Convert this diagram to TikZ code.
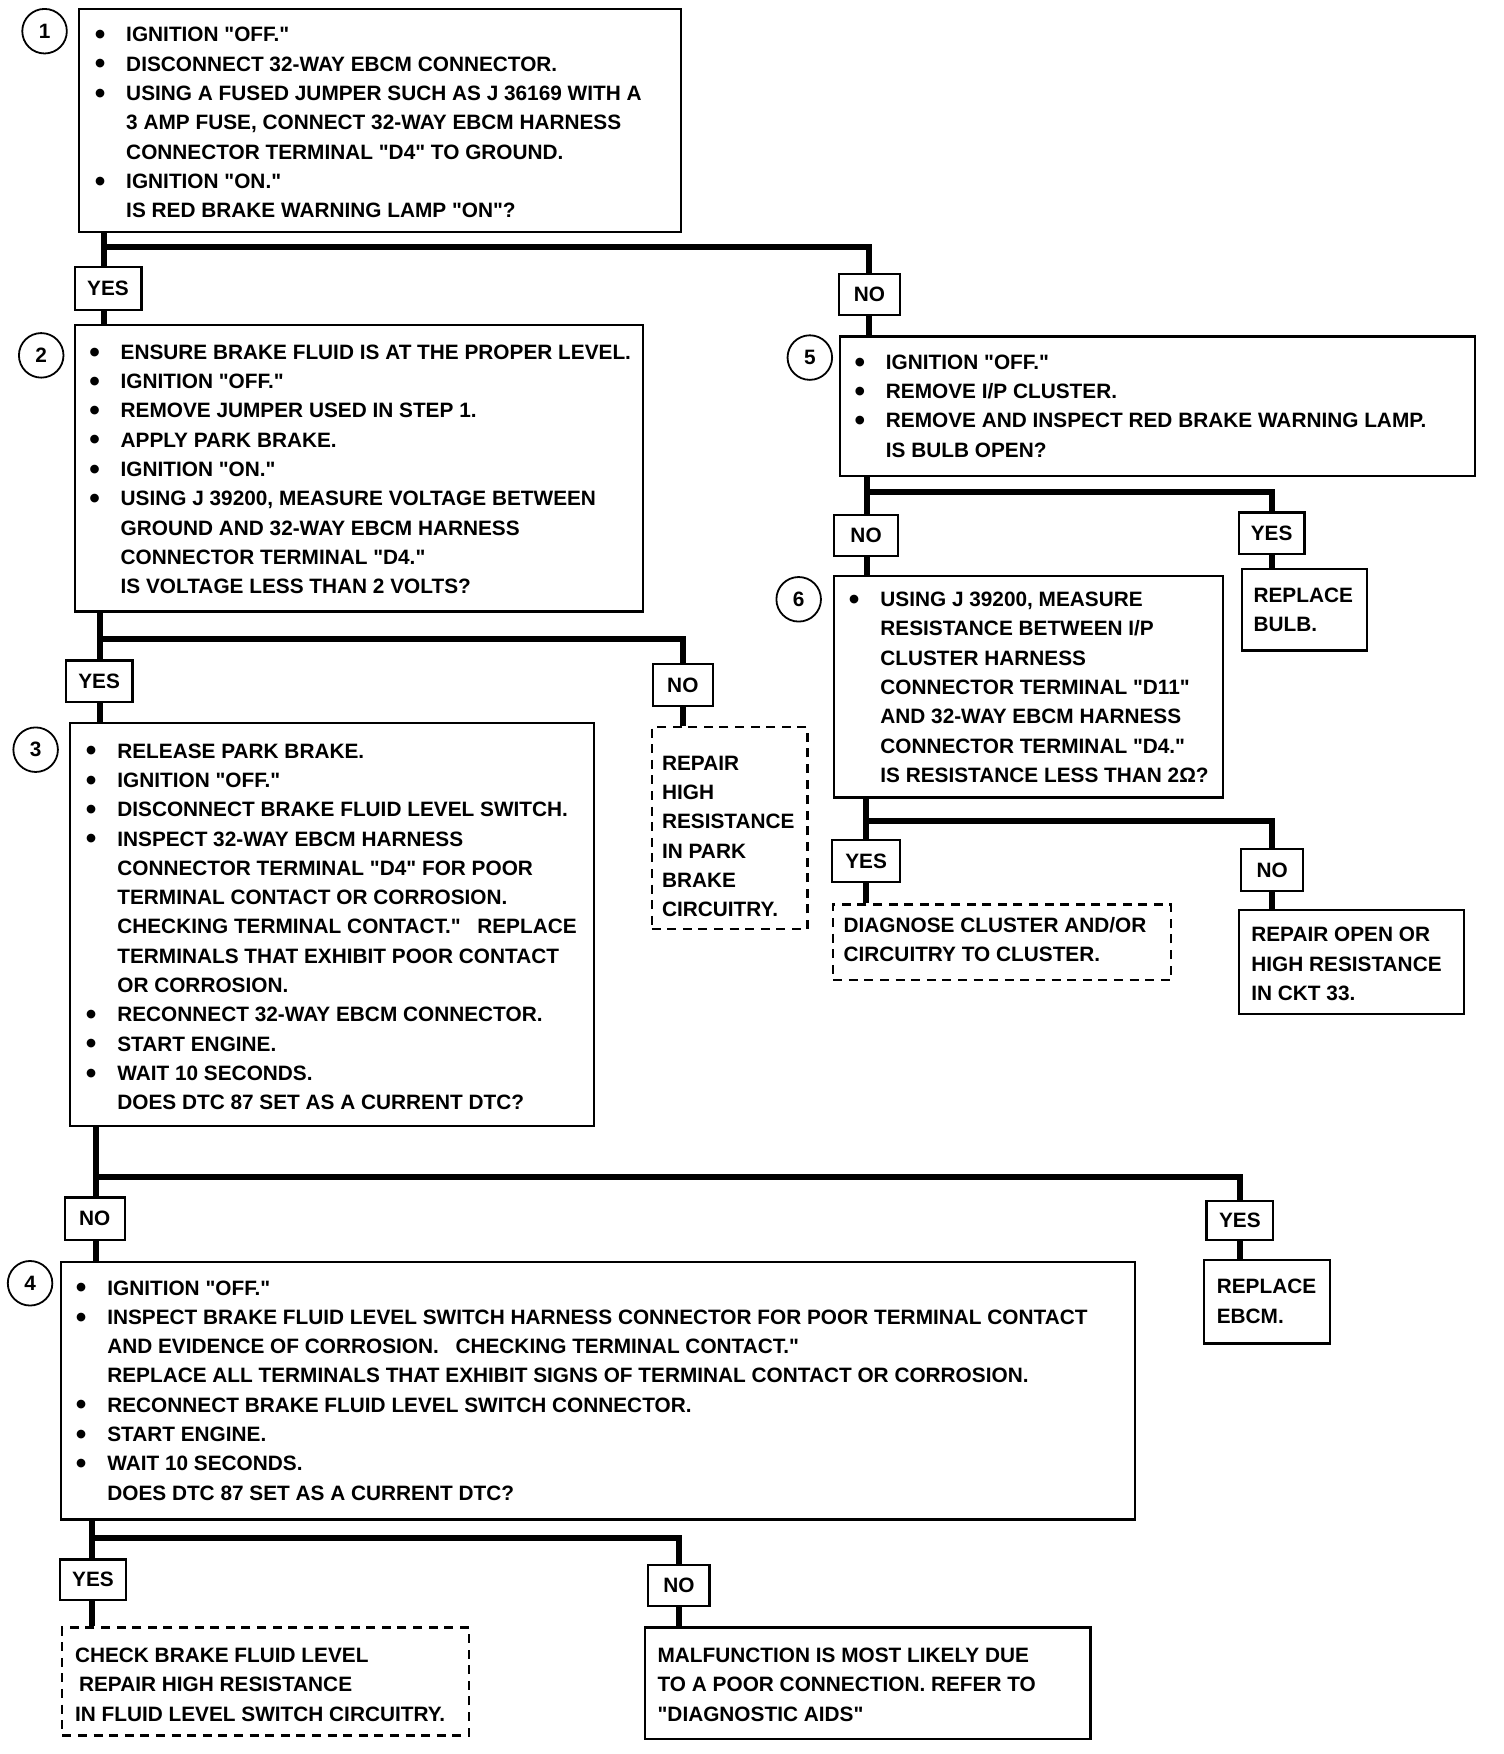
\documentclass[tikz,border=0pt]{standalone}
\usepackage{graphicx}
\usepackage{fontspec}
\setmainfont{Liberation Sans}[Ligatures=TeXOff]
\newlength{\bw}
\setlength{\bw}{15.3pt}
\newcommand{\bl}{\makebox[\bw][l]{\hspace*{-0.4pt}\raisebox{-0.13em}{\scalebox{1.45}{\textbullet}}}}
\newcommand{\ind}{\hspace*{\bw}}
\newcommand{\fs}{\fontsize{10.4}{14.65}\selectfont\bfseries}
\newcommand{\pxu}{0.557pt}
\tikzset{
 conn/.style={line width=3pt},
 bx/.style 2 args={draw, line width=1.1pt, minimum width=#1*\pxu, minimum height=#2*\pxu, anchor=north west, inner sep=0pt},
 dbx/.style 2 args={bx={#1}{#2}, dash pattern=on 4.5pt off 3.3pt},
 lbl/.style 2 args={draw, line width=1.1pt, minimum width=#1*\pxu, minimum height=#2*\pxu, inner sep=0pt, font=\fs},
 circ/.style={circle, draw, line width=0.9pt, minimum size=40*\pxu, inner sep=0pt, font=\fs},
 txt/.style={anchor=north west, inner sep=0pt, align=left, font=\fs},
}
\begin{document}
\begin{tikzpicture}[x=0.557pt, y=-0.557pt]
\fill[white] (0,0) rectangle (1350,1574.6);
\useasboundingbox (0,0) rectangle (1350,1574.6);

% ---------- step boxes ----------
\node[bx={540}{200}] (b1) at (70,7) {};
\node[circ] (c1) at (40,28) {1};
\node[txt] (t1) at (85.5,24.2) {\bl IGNITION "OFF."\\
\bl DISCONNECT 32-WAY EBCM CONNECTOR.\\
\bl USING A FUSED JUMPER SUCH AS J 36169 WITH A\\
\ind 3 AMP FUSE, CONNECT 32-WAY EBCM HARNESS\\
\ind CONNECTOR TERMINAL "D4" TO GROUND.\\
\bl IGNITION "ON."\\
\ind IS RED BRAKE WARNING LAMP "ON"?};

\node[bx={510}{257}] (b2) at (66,291) {};
\node[circ] (c2) at (37,319) {2};
\node[txt] (t2) at (80.5,309.2) {\bl ENSURE BRAKE FLUID IS AT THE PROPER LEVEL.\\
\bl IGNITION "OFF."\\
\bl REMOVE JUMPER USED IN STEP 1.\\
\bl APPLY PARK BRAKE.\\
\bl IGNITION "ON."\\
\bl USING J 39200, MEASURE VOLTAGE BETWEEN\\
\ind GROUND AND 32-WAY EBCM HARNESS\\
\ind CONNECTOR TERMINAL "D4."\\
\ind IS VOLTAGE LESS THAN 2 VOLTS?};

\node[bx={470}{362}] (b3) at (62,648) {};
\node[circ] (c3) at (32,673) {3};
\node[txt] (t3) at (77.5,667.2) {\bl RELEASE PARK BRAKE.\\
\bl IGNITION "OFF."\\
\bl DISCONNECT BRAKE FLUID LEVEL SWITCH.\\
\bl INSPECT 32-WAY EBCM HARNESS\\
\ind CONNECTOR TERMINAL "D4" FOR POOR\\
\ind TERMINAL CONTACT OR CORROSION.\\
\ind CHECKING TERMINAL CONTACT."\hspace{0.8em}REPLACE\\
\ind TERMINALS THAT EXHIBIT POOR CONTACT\\
\ind OR CORROSION.\\
\bl RECONNECT 32-WAY EBCM CONNECTOR.\\
\bl START ENGINE.\\
\bl WAIT 10 SECONDS.\\
\ind DOES DTC 87 SET AS A CURRENT DTC?};

\node[bx={964}{231}] (b4) at (54,1132) {};
\node[circ] (c4) at (27,1152) {4};
\node[txt] (t4) at (68.5,1149.2) {\bl IGNITION "OFF."\\
\bl INSPECT BRAKE FLUID LEVEL SWITCH HARNESS CONNECTOR FOR POOR TERMINAL CONTACT\\
\ind AND EVIDENCE OF CORROSION.\hspace{0.8em}CHECKING TERMINAL CONTACT."\\
\ind REPLACE ALL TERMINALS THAT EXHIBIT SIGNS OF TERMINAL CONTACT OR CORROSION.\\
\bl RECONNECT BRAKE FLUID LEVEL SWITCH CONNECTOR.\\
\bl START ENGINE.\\
\bl WAIT 10 SECONDS.\\
\ind DOES DTC 87 SET AS A CURRENT DTC?};

\node[bx={570}{125}] (b5) at (753,301) {};
\node[circ] (c5) at (727,321) {5};
\node[txt] (t5) at (767.5,318.2) {\bl IGNITION "OFF."\\
\bl REMOVE I/P CLUSTER.\\
\bl REMOVE AND INSPECT RED BRAKE WARNING LAMP.\\
\ind IS BULB OPEN?};

\node[bx={349}{199}] (b6) at (748,516) {};
\node[circ] (c6) at (717,538) {6};
\node[txt] (t6) at (762.5,531.2) {\bl USING J 39200, MEASURE\\
\ind RESISTANCE BETWEEN I/P\\
\ind CLUSTER HARNESS\\
\ind CONNECTOR TERMINAL "D11"\\
\ind AND 32-WAY EBCM HARNESS\\
\ind CONNECTOR TERMINAL "D4."\\
\ind IS RESISTANCE LESS THAN 2Ω?};

% ---------- result boxes ----------
\node[dbx={140}{181}] (r2) at (584,652) {};
\node[txt] (tr2) at (594,678.2) {REPAIR\\ HIGH\\ RESISTANCE\\ IN PARK\\ BRAKE\\ CIRCUITRY.};

\node[bx={113}{75}] (r3) at (1080,1130) {};
\node[txt] (tr3) at (1092,1148.2) {REPLACE\\ EBCM.};

\node[dbx={365}{97}] (r4y) at (55,1460) {};
\node[txt] (tr4y) at (67,1479.2) {CHECK BRAKE FLUID LEVEL\\ \hspace*{2pt}REPAIR HIGH RESISTANCE\\ IN FLUID LEVEL SWITCH CIRCUITRY.};

\node[bx={400}{100}] (r4n) at (578,1460) {};
\node[txt] (tr4n) at (590,1479.2) {MALFUNCTION IS MOST LIKELY DUE\\ TO A POOR CONNECTION. REFER TO\\ "DIAGNOSTIC AIDS"};

\node[bx={112}{73}] (r5) at (1114,510) {};
\node[txt] (tr5) at (1125,527.2) {REPLACE\\ BULB.};

\node[dbx={303}{68}] (r6y) at (747,811) {};
\node[txt] (tr6y) at (757,823.2) {DIAGNOSE CLUSTER AND/OR\\ CIRCUITRY TO CLUSTER.};

\node[bx={202}{93}] (r6n) at (1111,816) {};
\node[txt] (tr6n) at (1123,832.2) {REPAIR OPEN OR\\ HIGH RESISTANCE\\ IN CKT 33.};

% ---------- answer labels ----------
\node[lbl={60}{38}] (y1) at (97,259) {YES};
\node[lbl={55}{37}] (n1) at (780.5,264.5) {NO};
\node[lbl={60}{37}] (y2) at (89,611.5) {YES};
\node[lbl={54}{38}] (n2) at (613,615) {NO};
\node[lbl={54}{38}] (n3) at (85,1094) {NO};
\node[lbl={60}{35}] (y3) at (1113,1095.5) {YES};
\node[lbl={59}{36}] (y4) at (83.5,1418) {YES};
\node[lbl={55}{37}] (n4) at (609.5,1423.5) {NO};
\node[lbl={57}{37}] (n5) at (777.5,480.5) {NO};
\node[lbl={59}{37}] (y5) at (1141.5,478.5) {YES};
\node[lbl={61}{38}] (y6) at (777.5,773) {YES};
\node[lbl={56}{38}] (n6) at (1142,781) {NO};

% ---------- connectors ----------
\coordinate (j1) at (93,222);
\draw[conn] (b1.south -| j1) -- (j1 |- y1.north);
\draw[conn] (j1) -| (n1.north);
\draw[conn] (y1.south -| j1) -- (j1 |- b2.north);
\draw[conn] (n1.south) -- (n1.south |- b5.north);

\coordinate (j2) at (90,574);
\draw[conn] (b2.south -| j2) -- (j2 |- y2.north);
\draw[conn] (j2) -| (n2.north);
\draw[conn] (y2.south -| j2) -- (j2 |- b3.north);
\draw[conn] (n2.south) -- (n2.south |- r2.north);

\coordinate (j3) at (86,1057);
\draw[conn] (b3.south -| j3) -- (j3 |- n3.north);
\draw[conn] (j3) -| (y3.north);
\draw[conn] (n3.south -| j3) -- (j3 |- b4.north);
\draw[conn] (y3.south) -- (y3.south |- r3.north);

\coordinate (j4) at (83,1381);
\draw[conn] (b4.south -| j4) -- (j4 |- y4.north);
\draw[conn] (j4) -| (n4.north);
\draw[conn] (y4.south -| j4) -- (j4 |- r4y.north);
\draw[conn] (n4.south) -- (n4.south |- r4n.north);

\coordinate (j5) at (778,442);
\draw[conn] (b5.south -| j5) -- (j5 |- n5.north);
\draw[conn] (j5) -| (y5.north);
\draw[conn] (n5.south -| j5) -- (j5 |- b6.north);
\draw[conn] (y5.south) -- (y5.south |- r5.north);

\coordinate (j6) at (777,737);
\draw[conn] (b6.south -| j6) -- (j6 |- y6.north);
\draw[conn] (j6) -| (n6.north);
\draw[conn] (y6.south -| j6) -- (j6 |- r6y.north);
\draw[conn] (n6.south) -- (n6.south |- r6n.north);
\end{tikzpicture}
\end{document}
